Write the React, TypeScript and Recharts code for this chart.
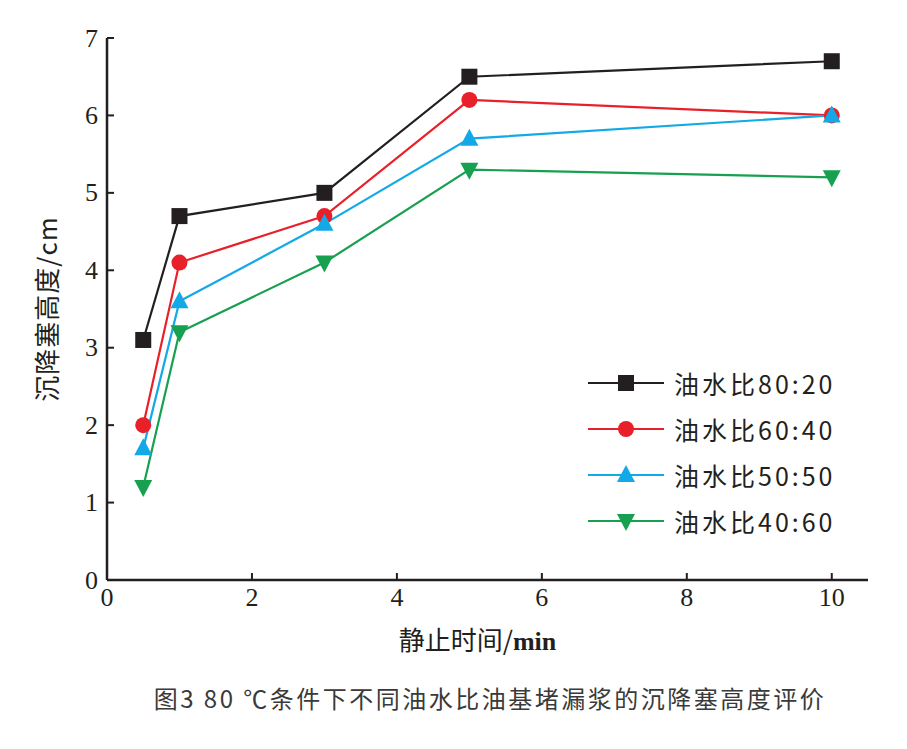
import React from "react";
import { LineChart, Line, XAxis, YAxis } from "recharts";

// time points (min) and plug heights (cm)
const times = [0.5, 1, 3, 5, 10];
const ratio8020 = [3.1, 4.7, 5.0, 6.5, 6.7];
const ratio6040 = [2.0, 4.1, 4.7, 6.2, 6.0];
const ratio5050 = [1.7, 3.6, 4.6, 5.7, 6.0];
const ratio4060 = [1.2, 3.2, 4.1, 5.3, 5.2];

const xTicks = [0, 2, 4, 6, 8, 10];
const yTicks = [0, 1, 2, 3, 4, 5, 6, 7];

const series = [
  { key: "r8020", name: "油水比80:20", color: "#231f20", shape: "square", values: ratio8020 },
  { key: "r6040", name: "油水比60:40", color: "#e8202a", shape: "circle", values: ratio6040 },
  { key: "r5050", name: "油水比50:50", color: "#12a9e6", shape: "up", values: ratio5050 },
  { key: "r4060", name: "油水比40:60", color: "#17a04f", shape: "down", values: ratio4060 },
];

const data = times.map((t, i) => {
  const row: { [k: string]: number } = { t };
  series.forEach((s) => (row[s.key] = s.values[i]));
  return row;
});

const serif = "'Liberation Serif', 'Times New Roman', serif";
const cjk = "'Noto Sans CJK SC', 'Noto Sans', sans-serif";

const Marker = ({ shape, color, cx, cy }: any) => {
  if (cx == null || cy == null) return null;
  if (shape === "square")
    return <rect x={cx - 8} y={cy - 8} width={16} height={16} fill={color} />;
  if (shape === "circle") return <circle cx={cx} cy={cy} r={8} fill={color} />;
  if (shape === "up")
    return <polygon points={`${cx},${cy - 10} ${cx - 9},${cy + 7} ${cx + 9},${cy + 7}`} fill={color} />;
  return <polygon points={`${cx},${cy + 10} ${cx - 9},${cy - 7} ${cx + 9},${cy - 7}`} fill={color} />;
};

// ticks point into the plot, labels sit outside
const YTick = ({ x, y, payload }: any) => (
  <g>
    {payload.value !== 0 && <line x1={x} y1={y} x2={x + 7} y2={y} stroke="#231f20" strokeWidth={2} />}
    <text x={x - 9} y={y} textAnchor="end" dominantBaseline="central" fontFamily={serif} fontSize={26} fill="#231f20">
      {payload.value}
    </text>
  </g>
);

const XTick = ({ x, y, payload }: any) => (
  <g>
    {payload.value !== 0 && <line x1={x} y1={y} x2={x} y2={y - 7} stroke="#231f20" strokeWidth={2} />}
    <text x={x} y={y + 26} textAnchor="middle" fontFamily={serif} fontSize={26} fill="#231f20">
      {payload.value}
    </text>
  </g>
);

const LegendBox = () => (
  <div style={{ position: "absolute", left: 586, top: 360, display: "flex", flexDirection: "column" }}>
    {series.map((s) => (
      <div key={s.key} style={{ display: "flex", alignItems: "center", height: 46 }}>
        <svg width={80} height={24}>
          <line x1={2} y1={12} x2={78} y2={12} stroke={s.color} strokeWidth={2.2} />
          <Marker shape={s.shape} color={s.color} cx={40} cy={12} />
        </svg>
        <span
          style={{
            marginLeft: 8,
            fontFamily: cjk,
            fontSize: 25,
            letterSpacing: 3,
            color: "#231f20",
          }}
        >
          {s.name}
        </span>
      </div>
    ))}
  </div>
);

const XLabel = ({ viewBox }: any) => {
  const cx = viewBox.x + viewBox.width / 2 - 10;
  return (
    <text x={cx} y={viewBox.y + 70} textAnchor="middle" fontSize={26} fill="#231f20">
      <tspan fontFamily={cjk}>静止时间/</tspan>
      <tspan fontFamily={serif} fontWeight="bold">min</tspan>
    </text>
  );
};

const YLabel = ({ viewBox }: any) => {
  const cx = 45;
  const cy = viewBox.y + viewBox.height / 2;
  return (
    <text
      x={cx}
      y={cy}
      transform={`rotate(-90 ${cx} ${cy})`}
      textAnchor="middle"
      dominantBaseline="central"
      fontFamily={cjk}
      fontSize={26}
      letterSpacing={1}
      fill="#231f20"
    >
      沉降塞高度/cm
    </text>
  );
};

export default function App() {
  return (
    <div style={{ position: "absolute", left: 0, top: 0, width: 907, height: 749, background: "#fff" }}>
      <LineChart
        width={907}
        height={670}
        data={data}
        margin={{ top: 38, right: 39, left: 47, bottom: 30 }}
      >
        <XAxis
          type="number"
          dataKey="t"
          domain={[0, 10.5]}
          ticks={xTicks}
          tick={<XTick />}
          tickLine={false}
          tickSize={0}
          tickMargin={0}
          height={60}
          axisLine={{ stroke: "#231f20", strokeWidth: 2.5 }}
          label={<XLabel />}
        />
        <YAxis
          type="number"
          domain={[0, 7]}
          ticks={yTicks}
          tick={<YTick />}
          tickLine={false}
          tickSize={0}
          tickMargin={0}
          width={60}
          axisLine={{ stroke: "#231f20", strokeWidth: 2.5 }}
          label={<YLabel />}
        />
        {series.map((s) => (
          <Line
            key={s.key}
            dataKey={s.key}
            name={s.name}
            stroke={s.color}
            strokeWidth={2.2}
            isAnimationActive={false}
            dot={(p: any) => <Marker key={`${s.key}-${p.index}`} shape={s.shape} color={s.color} cx={p.cx} cy={p.cy} />}
            activeDot={false}
          />
        ))}
      </LineChart>
      <LegendBox />
      <div
        style={{
          position: "absolute",
          top: 680,
          left: 0,
          width: 980,
          textAlign: "center",
          fontFamily: cjk,
          fontSize: 24,
          letterSpacing: 2.5,
          color: "#3a3a3a",
        }}
      >
        图3 80 ℃条件下不同油水比油基堵漏浆的沉降塞高度评价
      </div>
    </div>
  );
}
